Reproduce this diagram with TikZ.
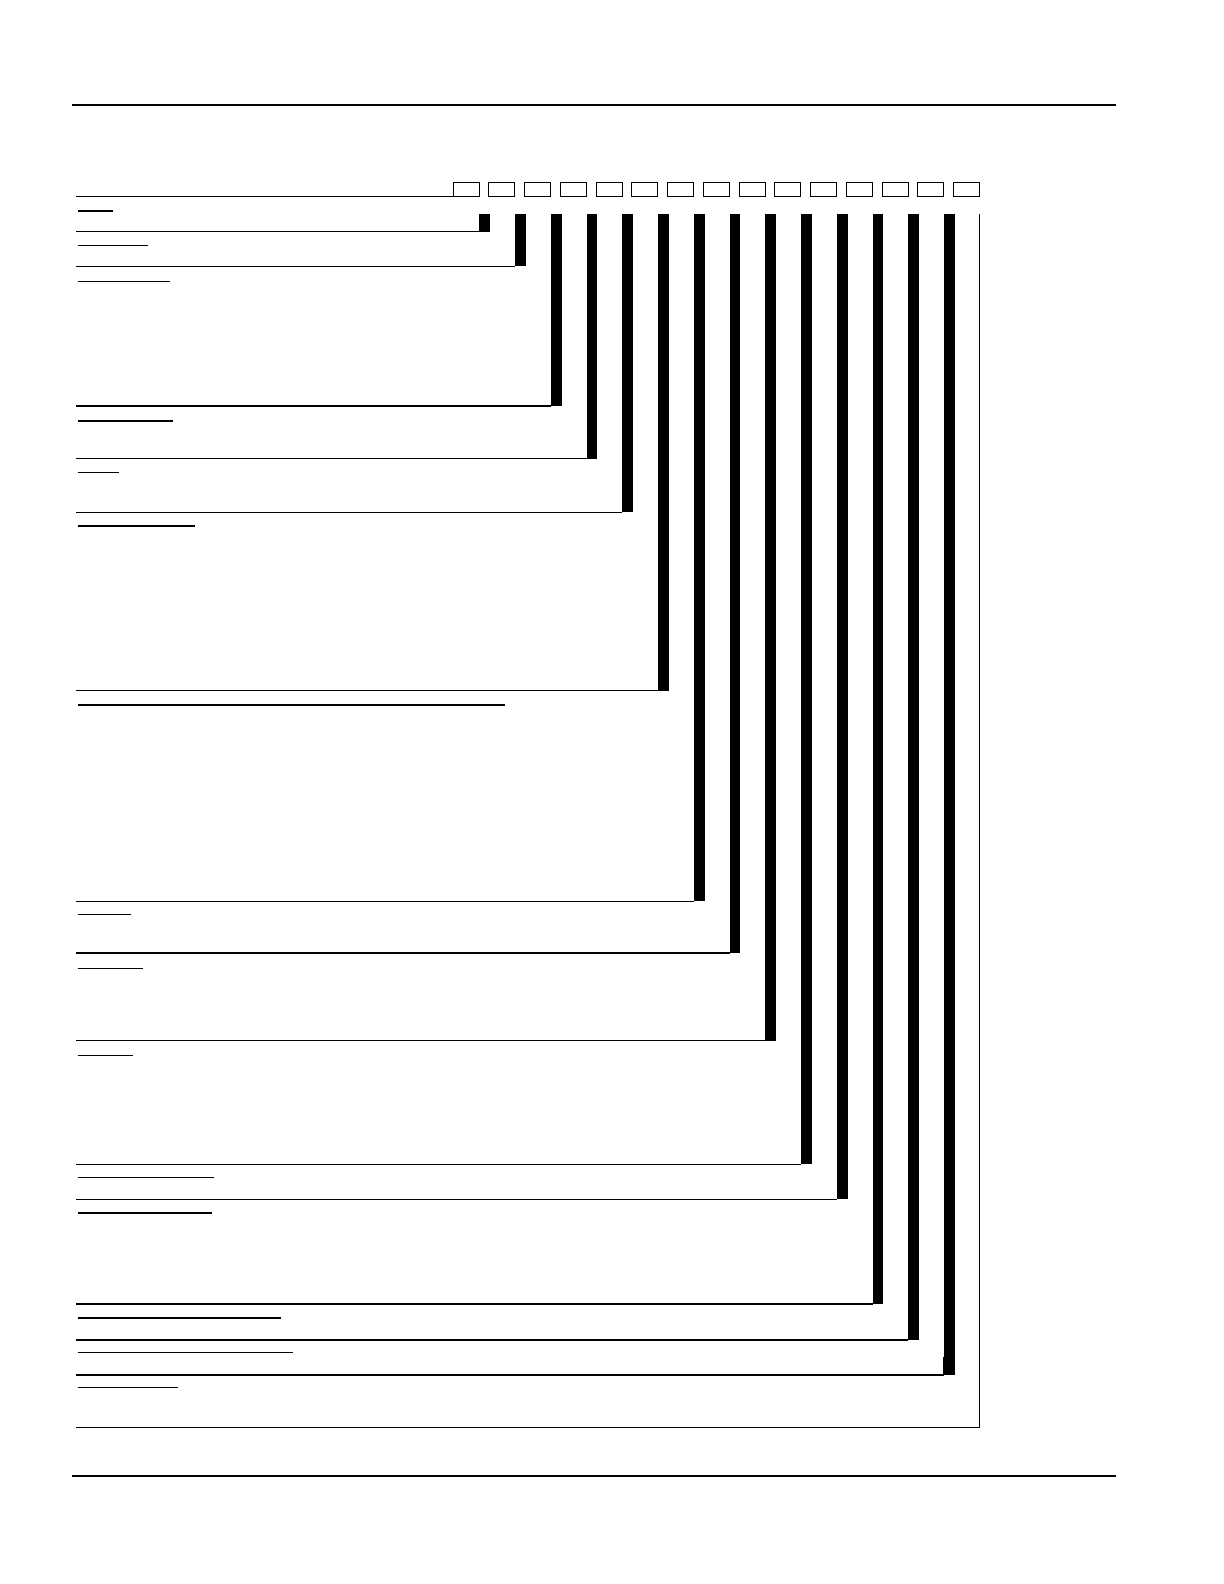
\documentclass[tikz,border=0pt]{standalone}
\usepackage{tikz}
\begin{document}
\begin{tikzpicture}
  [x=0.5pt,y=-0.5pt,every node/.style={draw,rectangle,line width=0.5pt,minimum width=13pt,minimum height=7pt,inner sep=0pt,outer sep=0pt}]
  \useasboundingbox (0,0) rectangle (1224,1584);
  \draw[line width=1pt] (72,105) -- (1116,105);
  \draw[line width=1pt] (72,1475.5) -- (1116,1475.5);
  % boxes along the top
  \foreach \i in {1,...,15}
    \node (b\i) at ({466+35.76*(\i-1)},189) {};
  \coordinate (l0) at (76,196);
  \draw[line width=0.5pt] (l0) -- (b1.south west);
  % bars with their lines
  \foreach \i/\y/\t in {1/231.5/0.5,2/266.3/0.5,3/406/0.85,4/458.5/0.5,5/512/0.5,6/690.5/0.85,7/901/0.5,
      8/953/0.85,9/1040.5/0.5,10/1164/0.5,11/1199/0.5,12/1304/0.85,13/1340/0.85,14/1375/0.85}
  {
    \coordinate (k\i) at ({479.3+35.76*(\i-1)},\y);
    \coordinate (l\i) at (76,\y);
    \fill (k\i) rectangle ({490+35.76*(\i-1)},213.7);
    \draw[line width=\t pt] (l\i) -- (k\i);
  }
  \fill (942.6,1357) rectangle (944.5,1375);
  \coordinate (l15) at (76,1427);
  \coordinate (c15) at (979.3,1427);
  \coordinate (t15) at (979.3,213.7);
  \draw[line width=0.5pt] (l15) -- (c15) -- (t15);
  % blanks under each line
  \foreach \y/\e in {211/112.7,245.7/147.7,281.3/170,421/172.7,472.6/119.2,526/195,705/505,914.3/131,
      968.3/142.7,1055.3/133.3,1177.5/214,1212.9/212,1318/280.8,1352.3/292.9,1387.6/177.7}
    \draw[line width=0.6pt] (77.7,\y) -- (\e,\y);
\end{tikzpicture}
\end{document}
